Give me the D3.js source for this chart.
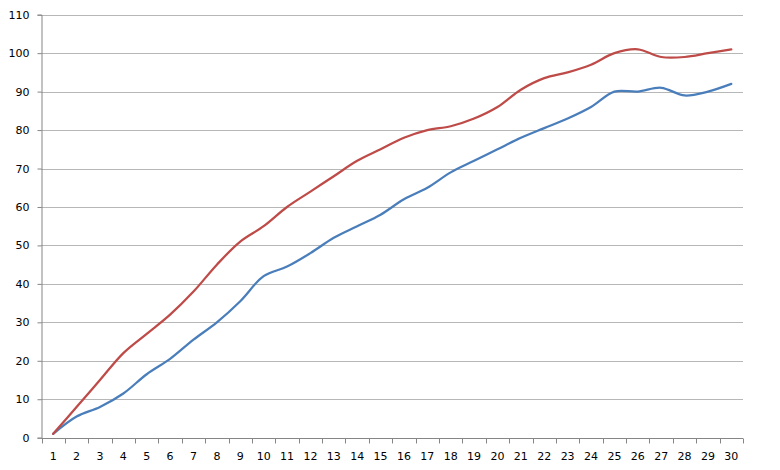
<!DOCTYPE html>
<html>
<head>
<meta charset="utf-8">
<script src="https://cdn.jsdelivr.net/npm/d3@7"></script>
<style>
  html, body { margin: 0; padding: 0; background: #fff; }
  svg { display: block; }
  text { font-family: "DejaVu Sans", Verdana, sans-serif; font-size: 11px; fill: #000; }
</style>
</head>
<body>
<svg id="chart" width="780" height="470"></svg>
<script>
const categories = d3.range(1, 31).map(String);
const seriesRed  = [1, 8, 15, 22, 27, 32, 38, 45, 51, 55, 60, 64, 68, 72, 75, 78, 80, 81, 83, 86, 90.5, 93.5, 95, 97, 100, 101, 99, 99, 100, 101];
const seriesBlue = [1, 5.5, 8, 11.5, 16.5, 20.5, 25.5, 30, 35.5, 42, 44.5, 48, 52, 55, 58, 62, 65, 69, 72, 75, 78, 80.5, 83, 86, 90, 90, 91, 89, 90, 92];
const yTicks = [0, 10, 20, 30, 40, 50, 60, 70, 80, 90, 100, 110];

const margin = { left: 41.5, right: 37, top: 14.7, bottom: 32.3 };
const W = 780, H = 470;
const svg = d3.select("#chart");

const x = d3.scaleBand().domain(categories).range([margin.left, W - margin.right]).paddingInner(0).paddingOuter(0);
const y = d3.scaleLinear().domain([0, 110]).range([H - margin.bottom, margin.top]);

// gridlines
svg.append("g").selectAll("line").data(yTicks.filter(d => d > 0)).join("line")
  .attr("x1", margin.left).attr("x2", W - margin.right)
  .attr("y1", d => Math.round(y(d)) + 0.5).attr("y2", d => Math.round(y(d)) + 0.5)
  .attr("stroke", "#6e6e6e").attr("stroke-width", 1).attr("stroke-dasharray", "1,1");

// y axis
const yAxis = svg.append("g").attr("transform", `translate(${margin.left},0)`)
  .call(d3.axisLeft(y).tickValues(yTicks).tickSize(4).tickPadding(8).tickFormat(d3.format("d")));
yAxis.select(".domain").attr("stroke", "#868686");
yAxis.selectAll(".tick line").attr("stroke", "#868686");
yAxis.selectAll("text").style("font-size", "11px").attr("fill", "#000");

// x axis
const xBottom = Math.round(y(0)) + 0.5;
const xAxisG = svg.append("g").attr("transform", `translate(0,${xBottom})`);
xAxisG.append("line").attr("x1", margin.left).attr("x2", W - margin.right)
  .attr("stroke", "#868686");
const bounds = categories.map(c => x(c)).concat([x(categories[categories.length - 1]) + x.bandwidth()]);
xAxisG.selectAll("line.tk").data(bounds).join("line").attr("class", "tk")
  .attr("x1", d => Math.round(d) + 0.5).attr("x2", d => Math.round(d) + 0.5)
  .attr("y1", 0).attr("y2", 5).attr("stroke", "#868686");
xAxisG.selectAll("text").data(categories).join("text")
  .attr("x", d => x(d) + x.bandwidth() / 2)
  .attr("y", 21)
  .attr("text-anchor", "middle")
  .text(d => d);

// lines
const line = d3.line()
  .x((d, i) => x(categories[i]) + x.bandwidth() / 2)
  .y(d => y(d))
  .curve(d3.curveCatmullRom.alpha(0.5));

svg.append("path").datum(seriesBlue).attr("d", line)
  .attr("fill", "none").attr("stroke", "#4a7ebb").attr("stroke-width", 2.25)
  .attr("stroke-linejoin", "round").attr("stroke-linecap", "round");
svg.append("path").datum(seriesRed).attr("d", line)
  .attr("fill", "none").attr("stroke", "#be4b48").attr("stroke-width", 2.25)
  .attr("stroke-linejoin", "round").attr("stroke-linecap", "round");
</script>
</body>
</html>
